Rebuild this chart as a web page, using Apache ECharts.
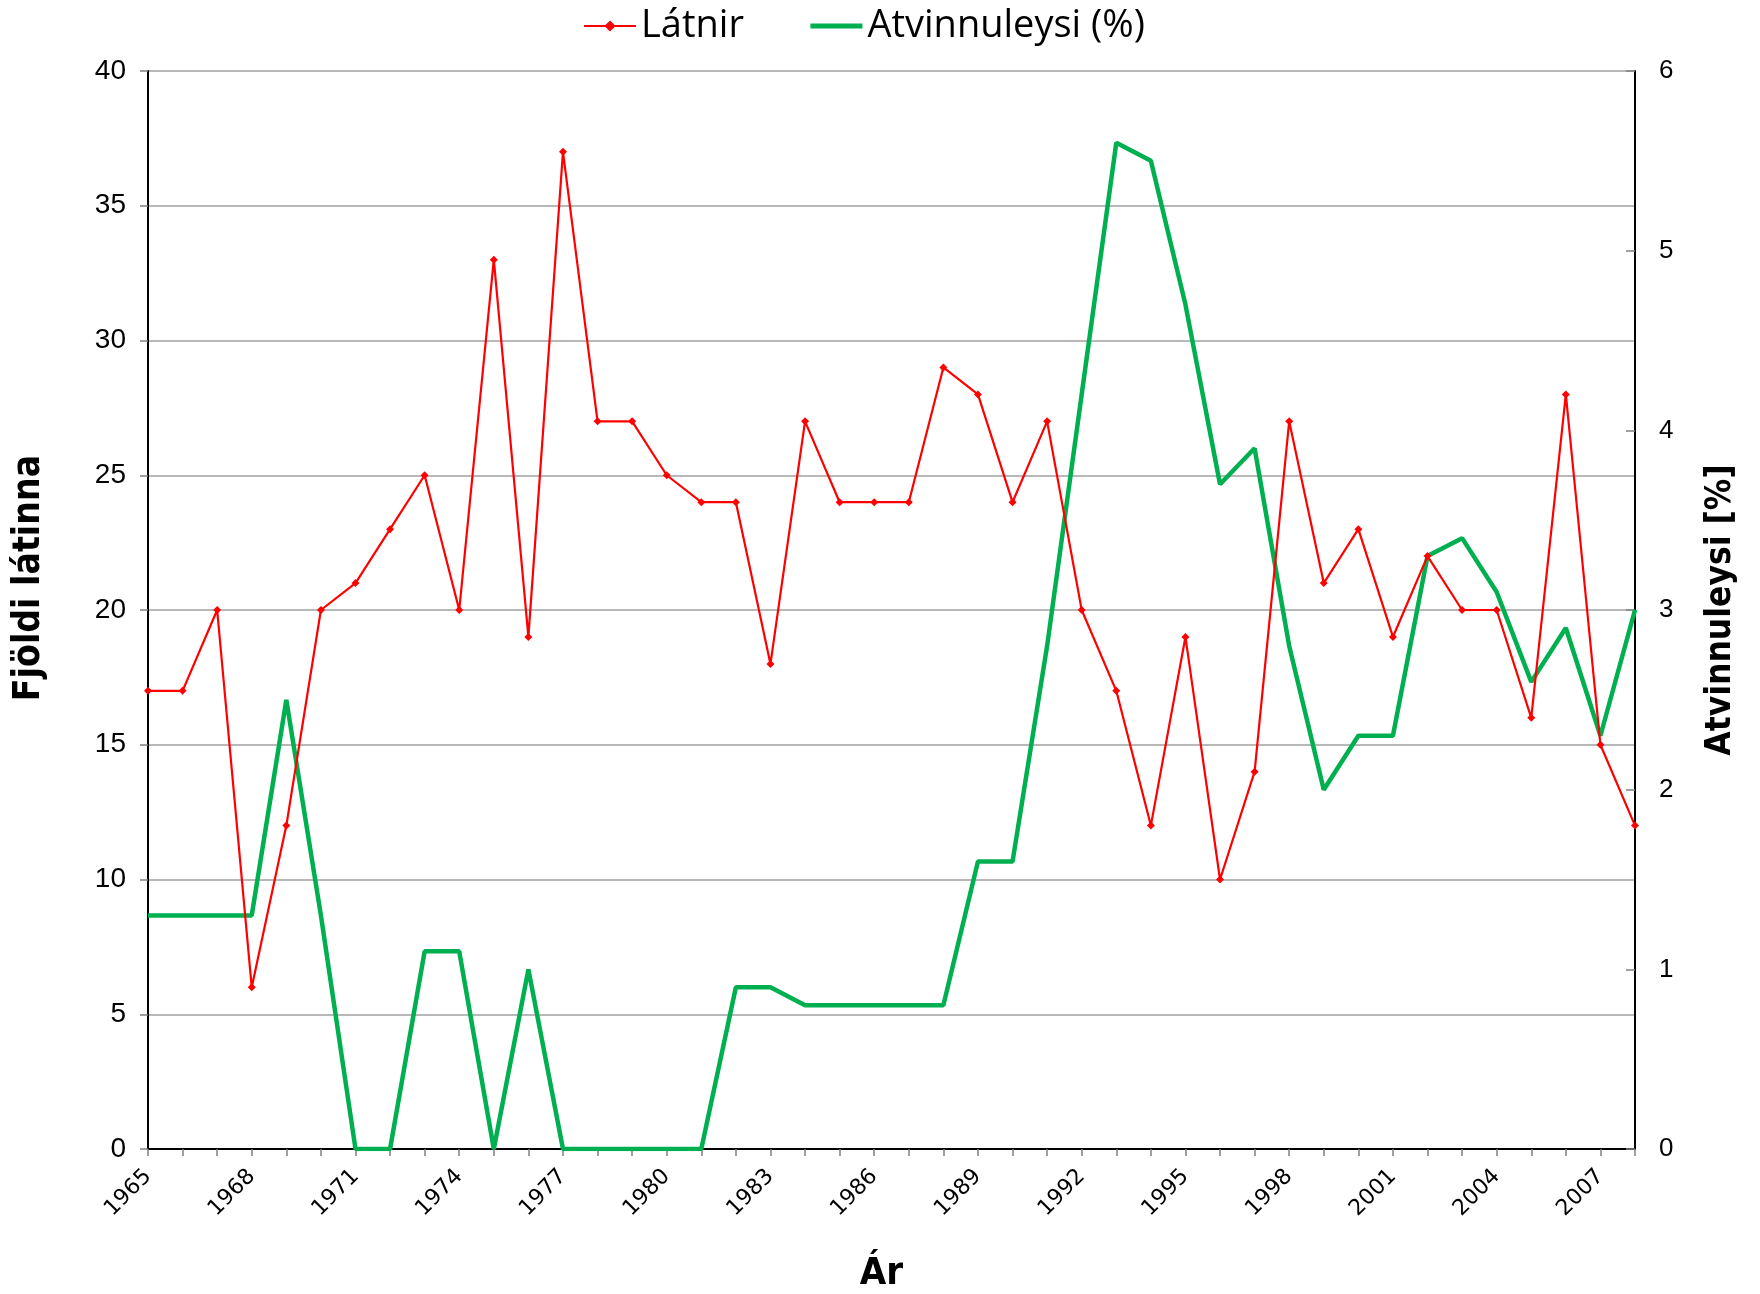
<!DOCTYPE html>
<html>
<head>
<meta charset="utf-8">
<script src="https://cdn.jsdelivr.net/npm/echarts@6/dist/echarts.min.js"></script>
<style>
  html, body { margin: 0; padding: 0; background: #fff; }
  #chart { width: 1760px; height: 1294px; }
</style>
</head>
<body>
<div id="chart"></div>
<script>
// years on the x axis
const years = []
for (let y = 1965; y <= 2008; y++) years.push(String(y))

// Látnir (deaths), left axis
const latnir = [
  17, 17, 20, 6, 12, 20, 21, 23, 25, 20,
  33, 19, 37, 27, 27, 25, 24, 24, 18, 27,
  24, 24, 24, 29, 28, 24, 27, 20, 17, 12,
  19, 10, 14, 27, 21, 23, 19, 22, 20, 20,
  16, 28, 15, 12
]

// Atvinnuleysi (%), right axis
const atvinnuleysi = [
  1.3, 1.3, 1.3, 1.3, 2.5, 1.3, 0, 0, 1.1, 1.1,
  0, 1.0, 0, 0, 0, 0, 0, 0.9, 0.9, 0.8,
  0.8, 0.8, 0.8, 0.8, 1.6, 1.6, 2.8, 4.2, 5.6, 5.5,
  4.7, 3.7, 3.9, 2.8, 2.0, 2.3, 2.3, 3.3, 3.4, 3.1,
  2.6, 2.9, 2.3, 3.0
]

const titleFont = '"DejaVu Sans Condensed", "Liberation Sans Narrow", "Roboto Condensed", sans-serif'
const tickFont = '"Liberation Sans", Arial, sans-serif'

const myChart = echarts.init(document.getElementById('chart'))
const option = {
  animation: false,
  color: ['#ff0000', '#00b050'],
  legend: {
    top: 2,
    left: 578,
    itemWidth: 52,
    itemHeight: 14,
    itemGap: 64,
    textStyle: { fontFamily: '"Open Sans", "Noto Sans", sans-serif', fontSize: 38, color: '#000' },
    data: [
      { name: 'Látnir' },
      { name: 'Atvinnuleysi (%)', itemStyle: { opacity: 0 }, lineStyle: { width: 5 } }
    ]
  },
  grid: { left: 148, right: 125, top: 71, bottom: 145, outerBoundsMode: 'none' },
  xAxis: {
    type: 'category',
    data: years,
    boundaryGap: false,
    name: 'Ár',
    nameLocation: 'middle',
    nameGap: 106,
    nameTextStyle: { fontFamily: titleFont, fontSize: 38, fontWeight: 'bold', color: '#000', padding: [0, 20, 0, 0] },
    axisLine: { lineStyle: { color: '#000', width: 2 } },
    axisTick: { interval: 0, length: 7, lineStyle: { color: '#808080', width: 1.5 } },
    axisLabel: {
      interval: 2,
      rotate: 45,
      fontFamily: 'Verdana, "DejaVu Sans", sans-serif',
      fontSize: 22,
      color: '#000',
      margin: 24
    },
    splitLine: { show: false }
  },
  yAxis: [
    {
      type: 'value',
      min: 0,
      max: 40,
      interval: 5,
      name: 'Fjöldi látinna',
      nameLocation: 'middle',
      nameRotate: 90,
      nameGap: 100,
      nameTextStyle: { fontFamily: titleFont, fontSize: 37, fontWeight: 'bold', color: '#000', padding: [0, 0, 0, 64] },
      axisLine: { show: true, lineStyle: { color: '#000', width: 2 } },
      axisTick: { show: true, length: 8, lineStyle: { color: '#808080', width: 1.5 } },
      axisLabel: { fontFamily: tickFont, fontSize: 28, color: '#000', margin: 22 },
      splitLine: { lineStyle: { color: '#a0a0a0', width: 1.5 } }
    },
    {
      type: 'value',
      min: 0,
      max: 6,
      interval: 1,
      position: 'right',
      name: 'Atvinnuleysi [%]',
      nameLocation: 'middle',
      nameRotate: 90,
      nameGap: 68,
      nameTextStyle: { fontFamily: titleFont, fontSize: 35, fontWeight: 'bold', color: '#000' },
      axisLine: { show: true, lineStyle: { color: '#000', width: 2 } },
      axisTick: { show: true, inside: true, length: 9, lineStyle: { color: '#808080', width: 1.5 } },
      axisLabel: { fontFamily: tickFont, fontSize: 26, color: '#000', margin: 24 },
      splitLine: { show: false }
    }
  ],
  series: [
    {
      name: 'Látnir',
      type: 'line',
      yAxisIndex: 0,
      data: latnir,
      symbol: 'diamond',
      symbolSize: 8,
      showAllSymbol: true,
      lineStyle: { width: 2.2, color: '#ff0000' },
      itemStyle: { color: '#ff0000' },
      z: 3
    },
    {
      name: 'Atvinnuleysi (%)',
      type: 'line',
      yAxisIndex: 1,
      data: atvinnuleysi,
      symbol: 'none',
      lineStyle: { width: 4.5, color: '#00b050' },
      itemStyle: { color: '#00b050' },
      z: 2
    }
  ]
}
myChart.setOption(option, true)
</script>
</body>
</html>
